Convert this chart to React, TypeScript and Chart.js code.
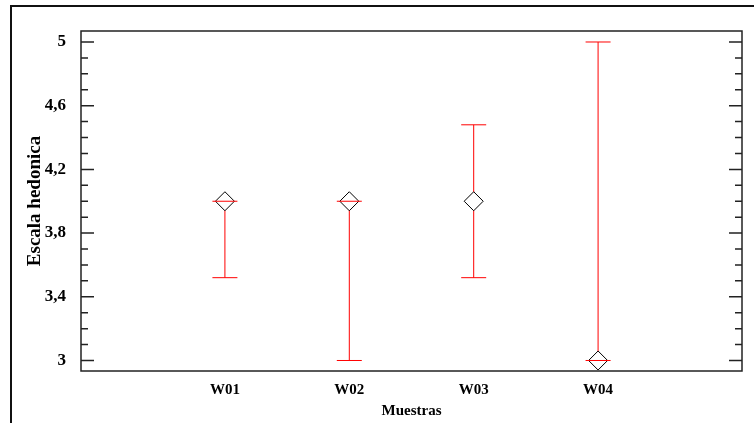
import React, { useEffect, useRef } from 'react';
import { Chart, registerables } from 'chart.js';

Chart.register(...registerables);

// Samples and their means with interval limits
const categories = ['W01', 'W02', 'W03', 'W04'];
const means = [4.0, 4.0, 4.0, 3.0];
const lowerLimits = [3.52, 3.0, 3.52, 3.0];
const upperLimits = [4.0, 4.0, 4.48, 5.0];

// Y axis ticks
const yTickValues = [3, 3.4, 3.8, 4.2, 4.6, 5];
const yTickLabels = ['3', '3,4', '3,8', '4,2', '4,6', '5'];
const yMinorTicks = [3.1, 3.2, 3.3, 3.5, 3.6, 3.7, 3.9, 4.0, 4.1, 4.3, 4.4, 4.5, 4.7, 4.8, 4.9];

const FONT_FAMILY = "'Liberation Serif', 'Times New Roman', serif";
const RED = 'rgb(255, 0, 0)';

const framePlugin = {
  id: 'frame',
  beforeDraw(chart: any) {
    const { ctx, width, height } = chart;
    ctx.save();
    ctx.fillStyle = '#ffffff';
    ctx.fillRect(0, 0, width, height);
    ctx.strokeStyle = '#111111';
    ctx.lineWidth = 2;
    ctx.strokeRect(11, 6, width + 20, height + 20);
    ctx.restore();
  },
  afterDraw(chart: any) {
    const { ctx, chartArea } = chart;
    const { left, right, top, bottom } = chartArea;
    const y = chart.scales.y;
    ctx.save();
    ctx.strokeStyle = '#222222';
    ctx.lineWidth = 1.5;
    ctx.strokeRect(left, top, right - left, bottom - top);
    const drawTick = (v: number, len: number) => {
      const py = y.getPixelForValue(v);
      ctx.beginPath();
      ctx.moveTo(left, py);
      ctx.lineTo(left + len, py);
      ctx.moveTo(right, py);
      ctx.lineTo(right - len, py);
      ctx.stroke();
    };
    yTickValues.forEach((v) => drawTick(v, 13));
    yMinorTicks.forEach((v) => drawTick(v, 7));
    ctx.restore();
  },
};

const errorBarPlugin = {
  id: 'errorBars',
  beforeDatasetsDraw(chart: any) {
    const { ctx } = chart;
    const xs = chart.scales.x;
    const ys = chart.scales.y;
    ctx.save();
    ctx.strokeStyle = RED;
    ctx.lineWidth = 1;
    categories.forEach((_, i) => {
      const px = xs.getPixelForValue(i + 1);
      ctx.beginPath();
      ctx.moveTo(px, ys.getPixelForValue(lowerLimits[i]));
      ctx.lineTo(px, ys.getPixelForValue(upperLimits[i]));
      ctx.stroke();
    });
    ctx.restore();
  },
  afterDatasetsDraw(chart: any) {
    const { ctx } = chart;
    const xs = chart.scales.x;
    const ys = chart.scales.y;
    const half = 12.5;
    ctx.save();
    ctx.strokeStyle = RED;
    ctx.lineWidth = 1;
    categories.forEach((_, i) => {
      const px = xs.getPixelForValue(i + 1);
      [lowerLimits[i], upperLimits[i]].forEach((v) => {
        const py = ys.getPixelForValue(v);
        ctx.beginPath();
        ctx.moveTo(px - half, py);
        ctx.lineTo(px + half, py);
        ctx.stroke();
      });
    });
    ctx.restore();
  },
};

export default function App() {
  const canvasRef = useRef<HTMLCanvasElement | null>(null);

  useEffect(() => {
    const canvas = canvasRef.current;
    if (!canvas) return;
    const chart = new Chart(canvas, {
      type: 'scatter',
      data: {
        datasets: [
          {
            data: categories.map((_, i) => ({ x: i + 1, y: means[i] })),
            pointStyle: 'rectRot',
            pointRadius: 9.5,
            pointHoverRadius: 9.5,
            pointBorderWidth: 1,
            pointBorderColor: '#000000',
            pointBackgroundColor: '#ffffff',
            clip: false,
          } as any,
        ],
      },
      options: {
        responsive: false,
        animation: false,
        events: [],
        layout: { padding: { left: 0, top: 31, right: 12, bottom: 0 } },
        plugins: {
          legend: { display: false },
          tooltip: { enabled: false },
          title: { display: false },
        },
        scales: {
          x: {
            type: 'linear',
            min: -0.157,
            max: 5.157,
            grid: { display: false },
            border: { display: false },
            afterBuildTicks: (scale: any) => {
              scale.ticks = categories.map((_, i) => ({ value: i + 1 }));
            },
            afterFit: (scale: any) => {
              scale.height = 52;
            },
            ticks: {
              autoSkip: false,
              maxRotation: 0,
              minRotation: 0,
              padding: 2,
              color: '#000000',
              font: { family: FONT_FAMILY, size: 15, weight: 'bold' },
              callback: (v: any) => categories[Number(v) - 1] ?? '',
            },
            title: {
              display: true,
              text: 'Muestras',
              color: '#000000',
              font: { family: FONT_FAMILY, size: 15, weight: 'bold' },
              padding: { top: 3, bottom: 3 },
            },
          },
          y: {
            type: 'linear',
            min: 2.934,
            max: 5.069,
            grid: { display: false },
            border: { display: false },
            afterBuildTicks: (scale: any) => {
              scale.ticks = yTickValues.map((v) => ({ value: v }));
            },
            afterFit: (scale: any) => {
              scale.width = 81;
            },
            ticks: {
              autoSkip: false,
              padding: 7,
              color: '#000000',
              font: { family: FONT_FAMILY, size: 17, weight: 'bold' },
              callback: (v: any) => {
                const idx = yTickValues.findIndex((t) => Math.abs(t - Number(v)) < 1e-6);
                return idx >= 0 ? yTickLabels[idx] : '';
              },
            },
            title: {
              display: true,
              text: 'Escala hedonica',
              color: '#000000',
              font: { family: FONT_FAMILY, size: 19, weight: 'bold' },
              padding: { top: 24, bottom: 0 },
            },
          },
        },
      } as any,
      plugins: [framePlugin, errorBarPlugin],
    });
    return () => chart.destroy();
  }, []);

  return (
    <div style={{ position: 'fixed', left: 0, top: 0, width: 754, height: 423 }}>
      <canvas ref={canvasRef} width={754} height={423} style={{ display: 'block' }} />
    </div>
  );
}
